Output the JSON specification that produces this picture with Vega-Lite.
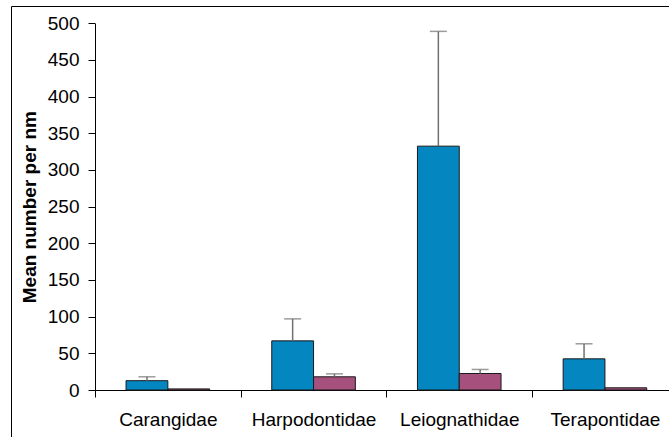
{
  "$schema": "https://vega.github.io/schema/vega-lite/v6.json",
  "width": 700,
  "height": 450,
  "autosize": {"type": "none"},
  "padding": {"left": 11, "top": 6, "right": 0, "bottom": 0},
  "background": "#ffffff",
  "config": {
    "view": {"stroke": "#000000", "strokeWidth": 1},
    "font": "Liberation Sans",
    "axis": {"labelFont": "Liberation Sans", "titleFont": "Liberation Sans", "labelColor": "#000000", "titleColor": "#000000", "domainColor": "#000000", "tickColor": "#000000", "grid": false}
  },
  "data": {
    "values": [
      {"family": "Carangidae", "series": "A", "mean": 12.7, "upper": 18},
      {"family": "Carangidae", "series": "B", "mean": 1.5, "upper": null},
      {"family": "Harpodontidae", "series": "A", "mean": 67, "upper": 97},
      {"family": "Harpodontidae", "series": "B", "mean": 18, "upper": 22},
      {"family": "Leiognathidae", "series": "A", "mean": 332.5, "upper": 489},
      {"family": "Leiognathidae", "series": "B", "mean": 22.5, "upper": 28},
      {"family": "Terapontidae", "series": "A", "mean": 42.5, "upper": 63},
      {"family": "Terapontidae", "series": "B", "mean": 3, "upper": null}
    ]
  },
  "encoding": {
    "x": {
      "field": "family",
      "type": "nominal",
      "sort": ["Carangidae", "Harpodontidae", "Leiognathidae", "Terapontidae"],
      "scale": {"range": [84, 666.8], "paddingInner": 0, "paddingOuter": 0},
      "axis": {
        "title": null,
        "labelAngle": 0,
        "offset": -66,
        "tickSize": 7,
        "tickOffset": -72.85,
        "labelOffset": 72.85,
        "labelFontSize": 19,
        "labelPadding": 13,
        "labelOverlap": false,
        "domainWidth": 1,
        "tickWidth": 1
      }
    },
    "xOffset": {
      "field": "series",
      "type": "nominal",
      "scale": {"paddingOuter": 0.743, "paddingInner": 0}
    }
  },
  "layer": [
    {
      "mark": {"type": "bar", "stroke": "#1a1a1a", "strokeWidth": 1},
      "encoding": {
        "y": {
          "field": "mean",
          "type": "quantitative",
          "scale": {"domain": [0, 500], "range": [384, 17.3], "nice": false, "zero": true},
          "axis": {
            "values": [0, 50, 100, 150, 200, 250, 300, 350, 400, 450, 500],
            "offset": -84,
            "tickSize": 7,
            "labelFontSize": 19,
            "labelPadding": 9,
            "title": "Mean number per nm",
            "titleFontSize": 19,
            "titleFontWeight": "bold",
            "titlePadding": 8
          }
        },
        "color": {
          "field": "series",
          "type": "nominal",
          "scale": {"domain": ["A", "B"], "range": ["#0487c0", "#a6507e"]},
          "legend": null
        }
      }
    },
    {
      "transform": [{"filter": "datum.upper != null"}],
      "mark": {"type": "rule", "color": "#707070", "strokeWidth": 1.5},
      "encoding": {
        "y": {"field": "mean", "type": "quantitative"},
        "y2": {"field": "upper"}
      }
    },
    {
      "transform": [{"filter": "datum.upper != null"}],
      "mark": {"type": "tick", "color": "#707070", "thickness": 1.5, "size": 17, "orient": "horizontal"},
      "encoding": {
        "y": {"field": "upper", "type": "quantitative"}
      }
    }
  ]
}
